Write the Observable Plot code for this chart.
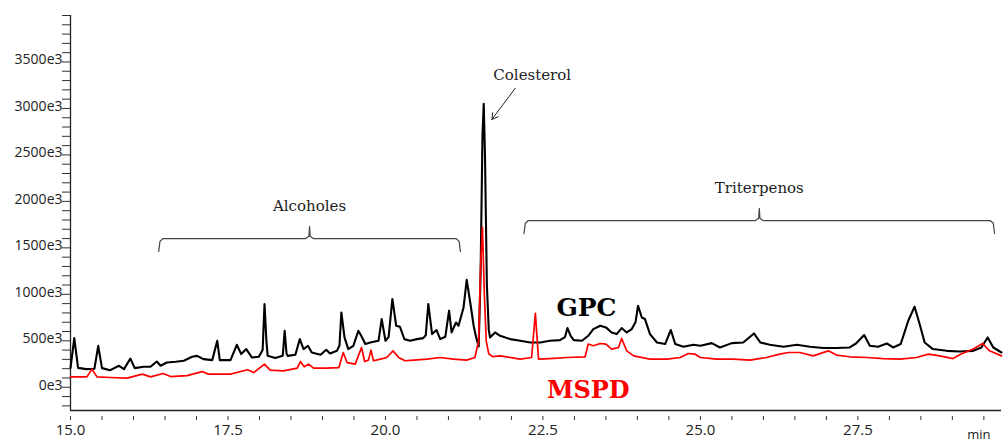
<!DOCTYPE html>
<html>
<head>
<meta charset="utf-8">
<script src="https://cdn.jsdelivr.net/npm/d3@7"></script>
<script src="https://cdn.jsdelivr.net/npm/@observablehq/plot@0.6"></script>
<style>
  html, body { margin: 0; padding: 0; background: #fff; }
</style>
</head>
<body>
<div id="chart"></div>
<script>
// Retention time (min) and abundance (×1e3)
const gpcTime = [15.00,15.06,15.12,15.25,15.38,15.44,15.50,15.63,15.77,15.85,15.95,16.02,16.16,16.27,16.37,16.43,16.53,16.67,16.80,16.93,17.01,17.11,17.25,17.33,17.37,17.54,17.64,17.71,17.79,17.88,17.99,18.05,18.08,18.11,18.13,18.25,18.37,18.40,18.43,18.45,18.57,18.64,18.70,18.77,18.83,18.97,19.06,19.12,19.23,19.27,19.30,19.35,19.41,19.49,19.57,19.63,19.68,19.76,19.89,19.94,20.00,20.05,20.11,20.17,20.23,20.30,20.39,20.50,20.60,20.64,20.68,20.74,20.81,20.87,20.95,21.01,21.05,21.12,21.16,21.24,21.29,21.35,21.40,21.44,21.48,21.51,21.54,21.56,21.58,21.61,21.64,21.66,21.74,21.82,21.98,22.14,22.30,22.46,22.61,22.77,22.85,22.89,22.94,22.99,23.12,23.22,23.30,23.41,23.50,23.59,23.67,23.75,23.83,23.91,23.97,24.01,24.07,24.12,24.20,24.31,24.44,24.53,24.60,24.73,24.89,25.00,25.18,25.31,25.50,25.68,25.85,25.95,26.10,26.32,26.53,26.74,26.95,27.16,27.37,27.47,27.60,27.69,27.82,27.96,28.06,28.18,28.30,28.40,28.48,28.56,28.69,28.91,29.12,29.33,29.46,29.56,29.65,29.78];
const gpcValue = [206,529,209,195,200,446,206,184,231,195,309,206,220,220,277,231,266,274,285,328,338,303,292,500,292,292,457,357,411,320,328,400,896,500,338,314,340,608,360,338,349,518,411,446,374,349,403,363,392,450,805,536,411,446,608,536,465,482,500,734,500,540,950,662,651,518,500,518,529,560,896,572,616,518,543,824,590,697,662,859,1155,896,662,536,440,1200,2700,3050,2500,1100,620,536,590,554,518,500,482,482,500,507,540,637,554,507,500,554,626,662,644,590,572,637,590,626,700,877,751,734,572,482,465,616,465,436,457,446,475,428,475,482,579,482,457,436,457,436,422,422,428,471,562,446,436,471,428,465,716,867,680,482,411,392,385,392,428,536,428,374];

const mspdTime = [15.00,15.26,15.34,15.42,15.63,15.90,16.14,16.27,16.47,16.59,16.85,17.09,17.19,17.37,17.54,17.81,17.91,18.08,18.17,18.38,18.60,18.65,18.71,18.78,18.86,19.07,19.26,19.33,19.39,19.52,19.62,19.67,19.73,19.77,19.81,19.92,20.02,20.12,20.21,20.31,20.45,20.66,20.87,21.08,21.29,21.42,21.48,21.51,21.54,21.57,21.60,21.64,21.70,21.82,22.14,22.32,22.38,22.43,22.61,22.88,23.17,23.22,23.30,23.41,23.50,23.59,23.70,23.75,23.83,23.94,24.20,24.47,24.68,24.81,24.91,25.00,25.26,25.52,25.79,26.05,26.26,26.40,26.58,26.79,27.03,27.16,27.37,27.64,27.90,28.17,28.43,28.62,28.80,29.01,29.14,29.33,29.48,29.59,29.78];
const mspdValue = [112,112,195,112,105,98,141,112,148,115,126,169,141,141,141,188,158,249,184,177,206,277,220,249,206,206,212,374,266,249,428,277,292,400,285,303,320,392,320,285,292,303,320,303,292,320,500,1300,1720,1000,500,360,330,338,303,320,795,303,309,320,328,465,446,471,465,411,428,525,392,338,303,303,320,363,357,320,303,303,292,320,357,374,374,338,392,346,328,320,309,303,320,357,338,309,357,411,471,392,338];

// Axis ticks
const xMajorTicks = [15.0, 17.5, 20.0, 22.5, 25.0, 27.5];
const xMinorTicks = d3.range(15, 29.51, 0.5);
const yMajorTicks = [0, 500, 1000, 1500, 2000, 2500, 3000, 3500];
const yMinorTicks = d3.range(-200, 4001, 100);

// Annotation groups
const groupNames = ["Alcoholes", "Triterpenos"];
const groupStart = [16.40, 22.20];
const groupEnd = [21.19, 29.67];
const groupLevel = [1600, 1794];
const seriesNames = ["GPC", "MSPD"];
const seriesColors = ["#000000", "#ff0000"];
const peakName = "Colesterol";

const gpc = gpcTime.map((t, i) => ({t, v: gpcValue[i]}));
const mspd = mspdTime.map((t, i) => ({t, v: mspdValue[i]}));

function brace(t0, t1, level, tip, foot) {
  const tm = (t0 + t1) / 2;
  return [
    [t0, foot], [t0 + 0.02, level - 30], [t0 + 0.07, level],
    [tm - 0.06, level], [tm - 0.01, level + 25], [tm, tip],
    [tm + 0.01, level + 25], [tm + 0.06, level],
    [t1 - 0.07, level], [t1 - 0.02, level - 30], [t1, foot]
  ].map(([t, v]) => ({t, v}));
}
const braces = groupNames.map((g, i) => ({
  name: g,
  pts: brace(groupStart[i], groupEnd[i], groupLevel[i], groupLevel[i] + 130, groupLevel[i] - 140)
}));

const serif = "'DejaVu Serif', serif";

const chart = Plot.plot({
  width: 1003,
  height: 443,
  marginLeft: 70,
  marginRight: 2,
  marginTop: 15,
  marginBottom: 33,
  x: {domain: [15, 29.78], label: null},
  y: {domain: [-250, 4000], label: null},
  style: {fontFamily: "'Open Sans', sans-serif", color: "#222", background: "#fff"},
  marks: [
    Plot.axisY({ticks: yMinorTicks, tickSize: 8, fill: "none", stroke: "#333", strokeWidth: 1}),
    Plot.axisY({ticks: yMajorTicks, tickSize: 0, tickPadding: 8, tickFormat: d => `${d}e3`, fontSize: 14, fill: "#222", dy: -2}),
    Plot.axisX({ticks: xMinorTicks, tickSize: 4, fill: "none", stroke: "#333", dy: 6}),
    Plot.axisX({ticks: xMajorTicks, tickSize: 0, tickPadding: 14, tickFormat: d3.format(".1f"), fontSize: 15, fill: "#222"}),
    Plot.ruleX([15], {y1: -250, y2: 4000, stroke: "#222", strokeWidth: 1.3}),
    Plot.ruleY([-250], {x1: 15, x2: 29.78, stroke: "#222", strokeWidth: 1.3}),
    Plot.text(["min"], {x: 29.42, y: -250, dy: 24, fontSize: 13, fill: "#222"}),

    Plot.line(gpc, {x: "t", y: "v", stroke: seriesColors[0], strokeWidth: 2.1}),
    Plot.line(mspd, {x: "t", y: "v", stroke: seriesColors[1], strokeWidth: 1.7}),

    ...braces.map(b => Plot.line(b.pts, {x: "t", y: "v", stroke: "#444", strokeWidth: 1.2})),
    Plot.text(groupNames, {
      x: (d, i) => (groupStart[i] + groupEnd[i]) / 2,
      y: (d, i) => groupLevel[i] + 300,
      text: d => d, fontFamily: serif, fontSize: 15, fill: "#222", lineAnchor: "bottom"
    }),

    Plot.text([peakName], {x: 22.33, y: 3303, text: d => d, fontFamily: serif, fontSize: 15, fill: "#222", lineAnchor: "bottom"}),
    Plot.arrow([{x1: 22.06, y1: 3217, x2: 21.69, y2: 2882}], {x1: "x1", y1: "y1", x2: "x2", y2: "y2", stroke: "#222", strokeWidth: 1, headLength: 10}),

    Plot.text([seriesNames[0]], {x: 23.19, y: 770, text: d => d, fontFamily: serif, fontWeight: "bold", fontSize: 25, fill: seriesColors[0], lineAnchor: "bottom"}),
    Plot.text([seriesNames[1]], {x: 23.22, y: -114, text: d => d, fontFamily: serif, fontWeight: "bold", fontSize: 24, fill: seriesColors[1], lineAnchor: "bottom"})
  ]
});
document.getElementById("chart").appendChild(chart);
</script>
</body>
</html>
